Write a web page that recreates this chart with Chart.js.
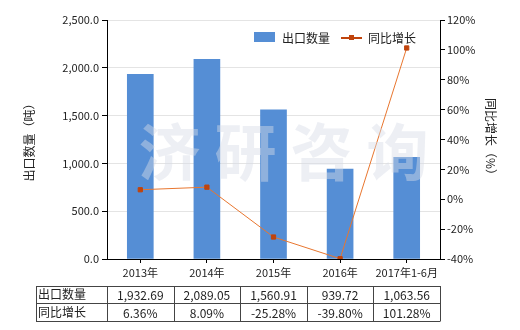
<!DOCTYPE html>
<html>
<head>
<meta charset="utf-8">
<script src="https://cdn.jsdelivr.net/npm/chart.js@4/dist/chart.umd.min.js"></script>
<style>
  body { margin: 0; background: #fff; }
</style>
</head>
<body>
<canvas id="chart" width="520" height="330"></canvas>
<script>
// Data
const categories = ["2013年", "2014年", "2015年", "2016年", "2017年1-6月"];
const exportQty = [1932.69, 2089.05, 1560.91, 939.72, 1063.56];
const growthPct = [6.36, 8.09, -25.28, -39.8, 101.28];
const seriesNames = ["出口数量", "同比增长"];

const FONT = "'Noto Sans CJK SC', 'Noto Sans', sans-serif";
const BAR_COLOR = "#558ed5";
const LINE_COLOR = "#e8762f";
const MARK_COLOR = "#c0440c";

function fmtNum(v, d) {
  return v.toLocaleString("en-US", { minimumFractionDigits: d, maximumFractionDigits: d });
}

// Legend, watermark and data table
const extrasPlugin = {
  id: "extras",
  afterDatasetsDraw(chart) {
    const ctx = chart.ctx;
    const area = chart.chartArea;
    ctx.save();
    ctx.font = "bold 62px " + FONT;
    ctx.fillStyle = "rgba(215, 220, 230, 0.45)";
    ctx.textAlign = "center";
    ctx.textBaseline = "middle";
    ctx.fillText("济 研 咨 询", (area.left + area.right) / 2 + 10, 152);
    ctx.restore();
  },
  afterDraw(chart) {
    const ctx = chart.ctx;
    const x = chart.scales.x;
    ctx.save();

    // legend
    ctx.font = "12px " + FONT;
    ctx.textBaseline = "middle";
    ctx.fillStyle = BAR_COLOR;
    ctx.fillRect(254, 32, 21, 10);
    ctx.fillStyle = "#222";
    ctx.fillText(seriesNames[0], 282, 38);
    ctx.strokeStyle = MARK_COLOR;
    ctx.lineWidth = 2;
    ctx.beginPath();
    ctx.moveTo(341, 38);
    ctx.lineTo(362, 38);
    ctx.stroke();
    ctx.fillStyle = MARK_COLOR;
    ctx.fillRect(349, 35, 5, 5);
    ctx.fillStyle = "#222";
    ctx.fillText(seriesNames[1], 368, 38);

    // table
    const n = categories.length;
    const step = (x.right - x.left) / n;
    const tLeft = 36;
    const rows = [286, 303, 321];
    ctx.strokeStyle = "#444";
    ctx.lineWidth = 1;
    ctx.beginPath();
    rows.forEach(y => {
      ctx.moveTo(tLeft, y + 0.5);
      ctx.lineTo(x.right, y + 0.5);
    });
    const cols = [tLeft];
    for (let i = 0; i <= n; i++) cols.push(Math.round(x.left + step * i));
    cols.forEach(cx => {
      ctx.moveTo(cx + 0.5, rows[0]);
      ctx.lineTo(cx + 0.5, rows[2] + 0.5);
    });
    ctx.stroke();

    ctx.font = "12px " + FONT;
    ctx.fillStyle = "#222";
    ctx.textAlign = "left";
    ctx.fillText(seriesNames[0], tLeft + 2, (rows[0] + rows[1]) / 2);
    ctx.fillText(seriesNames[1], tLeft + 2, (rows[1] + rows[2]) / 2);
    ctx.textAlign = "center";
    for (let i = 0; i < n; i++) {
      const cx = x.getPixelForValue(i);
      ctx.fillText(fmtNum(exportQty[i], 2), cx, (rows[0] + rows[1]) / 2 + 1);
      ctx.fillText(fmtNum(growthPct[i], 2) + "%", cx, (rows[1] + rows[2]) / 2 + 1);
    }
    ctx.restore();
  }
};

const ctx = document.getElementById("chart").getContext("2d");
const chart = new Chart(ctx, {
  type: "bar",
  data: {
    labels: categories,
    datasets: [
      {
        type: "line",
        label: seriesNames[1],
        data: growthPct,
        yAxisID: "y2",
        borderColor: LINE_COLOR,
        borderWidth: 1,
        pointStyle: "rect",
        pointRadius: 3,
        pointBackgroundColor: MARK_COLOR,
        pointBorderColor: MARK_COLOR,
        tension: 0,
        order: 0,
      },
      {
        label: seriesNames[0],
        data: exportQty,
        yAxisID: "y",
        backgroundColor: BAR_COLOR,
        barThickness: 26,
        order: 1,
      },
    ],
  },
  options: {
    responsive: false,
    animation: false,
    layout: { padding: { top: 20, left: 0, right: 0, bottom: 0 } },
    plugins: {
      legend: { display: false },
      tooltip: { enabled: false },
    },
    scales: {
      x: {
        offset: true,
        grid: { display: true, drawOnChartArea: false, offset: false, tickLength: 4, tickColor: "#000" },
        border: { color: "#000" },
        ticks: { color: "#222", font: { family: FONT, size: 11 }, padding: 3, maxRotation: 0, autoSkip: false },
        afterFit(axis) { axis.height = 71; },
      },
      y: {
        position: "left",
        min: 0,
        max: 2500,
        ticks: {
          stepSize: 500,
          color: "#222",
          font: { family: FONT, size: 11 },
          padding: 3,
          callback: v => fmtNum(v, 1),
        },
        grid: { color: "#e4e4e4", tickLength: 5, tickColor: "#000" },
        border: { color: "#000" },
        title: {
          display: true,
          text: "出口数量（吨）",
          color: "#222",
          font: { family: FONT, size: 12 },
          padding: { top: 22, bottom: 0 },
        },
        afterFit(axis) { axis.width = 107; },
      },
      y2: {
        position: "right",
        min: -40,
        max: 120,
        ticks: {
          stepSize: 20,
          color: "#222",
          font: { family: FONT, size: 11 },
          padding: 2,
          callback: v => v + "%",
        },
        grid: { drawOnChartArea: false, tickLength: 5, tickColor: "#000" },
        border: { color: "#000" },
        title: {
          display: true,
          text: "同比增长（%）",
          color: "#222",
          font: { family: FONT, size: 12 },
          padding: { top: 22, bottom: 0 },
        },
        afterFit(axis) { axis.width = 80; },
      },
    },
  },
  plugins: [extrasPlugin],
});
</script>
</body>
</html>
